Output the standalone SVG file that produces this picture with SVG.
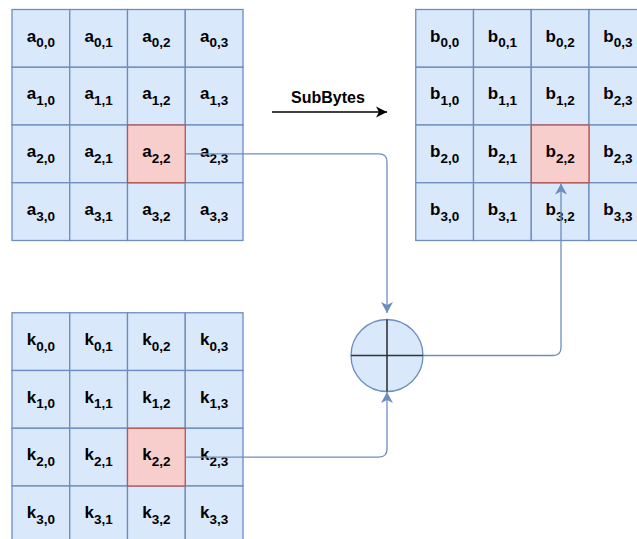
<svg xmlns="http://www.w3.org/2000/svg" width="637" height="539" viewBox="0 0 637 539">
<style>
.c{fill:#dae8fc;stroke:#6c8ebf;stroke-width:1.3}
.r{fill:#f8cecc;stroke:#b85450;stroke-width:1.3}
.t{font-family:"Liberation Sans",Arial,sans-serif;font-weight:bold;font-size:17px;fill:#000;text-anchor:middle}
.s{font-size:13.5px}
.e{fill:none;stroke:#6c8ebf;stroke-width:1.3}
.x{fill:none;stroke:#333;stroke-width:1.6}
</style>
<defs>
<marker id="ab" markerUnits="userSpaceOnUse" markerWidth="13" markerHeight="13" refX="11" refY="6" orient="auto" viewBox="0 0 13 12"><path d="M0,0 L11,6 L0,12 L3,6 Z" fill="#6c8ebf"/></marker>
<marker id="ak" markerUnits="userSpaceOnUse" markerWidth="13" markerHeight="13" refX="11" refY="5.5" orient="auto" viewBox="0 0 13 11"><path d="M0,0 L11,5.5 L0,11 L3,5.5 Z" fill="#000"/></marker>
</defs>
<rect width="637" height="539" fill="#fff"/>

<g id="state-a">
<g id="a00"><rect class="c" x="12" y="9.5" width="57.75" height="57.75"/><text class="t" x="40.9" y="41.7">a<tspan class="s" dy="5.6">0,0</tspan></text></g>
<g id="a01"><rect class="c" x="69.75" y="9.5" width="57.75" height="57.75"/><text class="t" x="98.6" y="41.7">a<tspan class="s" dy="5.6">0,1</tspan></text></g>
<g id="a02"><rect class="c" x="127.5" y="9.5" width="57.75" height="57.75"/><text class="t" x="156.4" y="41.7">a<tspan class="s" dy="5.6">0,2</tspan></text></g>
<g id="a03"><rect class="c" x="185.25" y="9.5" width="57.75" height="57.75"/><text class="t" x="214.1" y="41.7">a<tspan class="s" dy="5.6">0,3</tspan></text></g>
<g id="a10"><rect class="c" x="12" y="67.25" width="57.75" height="57.75"/><text class="t" x="40.9" y="99.45">a<tspan class="s" dy="5.6">1,0</tspan></text></g>
<g id="a11"><rect class="c" x="69.75" y="67.25" width="57.75" height="57.75"/><text class="t" x="98.6" y="99.45">a<tspan class="s" dy="5.6">1,1</tspan></text></g>
<g id="a12"><rect class="c" x="127.5" y="67.25" width="57.75" height="57.75"/><text class="t" x="156.4" y="99.45">a<tspan class="s" dy="5.6">1,2</tspan></text></g>
<g id="a13"><rect class="c" x="185.25" y="67.25" width="57.75" height="57.75"/><text class="t" x="214.1" y="99.45">a<tspan class="s" dy="5.6">1,3</tspan></text></g>
<g id="a20"><rect class="c" x="12" y="125" width="57.75" height="57.75"/><text class="t" x="40.9" y="157.2">a<tspan class="s" dy="5.6">2,0</tspan></text></g>
<g id="a21"><rect class="c" x="69.75" y="125" width="57.75" height="57.75"/><text class="t" x="98.6" y="157.2">a<tspan class="s" dy="5.6">2,1</tspan></text></g>
<g id="a23"><rect class="c" x="185.25" y="125" width="57.75" height="57.75"/><text class="t" x="214.1" y="157.2">a<tspan class="s" dy="5.6">2,3</tspan></text></g>
<g id="a30"><rect class="c" x="12" y="182.75" width="57.75" height="57.75"/><text class="t" x="40.9" y="214.95">a<tspan class="s" dy="5.6">3,0</tspan></text></g>
<g id="a31"><rect class="c" x="69.75" y="182.75" width="57.75" height="57.75"/><text class="t" x="98.6" y="214.95">a<tspan class="s" dy="5.6">3,1</tspan></text></g>
<g id="a32"><rect class="c" x="127.5" y="182.75" width="57.75" height="57.75"/><text class="t" x="156.4" y="214.95">a<tspan class="s" dy="5.6">3,2</tspan></text></g>
<g id="a33"><rect class="c" x="185.25" y="182.75" width="57.75" height="57.75"/><text class="t" x="214.1" y="214.95">a<tspan class="s" dy="5.6">3,3</tspan></text></g>
<g id="a22"><rect class="r" x="127.5" y="125" width="57.75" height="57.75"/><text class="t" x="156.4" y="157.2">a<tspan class="s" dy="5.6">2,2</tspan></text></g>
</g>

<g id="state-b">
<g id="b00"><rect class="c" x="415.75" y="9.5" width="57.75" height="57.75"/><text class="t" x="444.6" y="41.7">b<tspan class="s" dy="5.6">0,0</tspan></text></g>
<g id="b01"><rect class="c" x="473.5" y="9.5" width="57.75" height="57.75"/><text class="t" x="502.4" y="41.7">b<tspan class="s" dy="5.6">0,1</tspan></text></g>
<g id="b02"><rect class="c" x="531.25" y="9.5" width="57.75" height="57.75"/><text class="t" x="560.1" y="41.7">b<tspan class="s" dy="5.6">0,2</tspan></text></g>
<g id="b03"><rect class="c" x="589" y="9.5" width="57.75" height="57.75"/><text class="t" x="617.9" y="41.7">b<tspan class="s" dy="5.6">0,3</tspan></text></g>
<g id="b10"><rect class="c" x="415.75" y="67.25" width="57.75" height="57.75"/><text class="t" x="444.6" y="99.45">b<tspan class="s" dy="5.6">1,0</tspan></text></g>
<g id="b11"><rect class="c" x="473.5" y="67.25" width="57.75" height="57.75"/><text class="t" x="502.4" y="99.45">b<tspan class="s" dy="5.6">1,1</tspan></text></g>
<g id="b12"><rect class="c" x="531.25" y="67.25" width="57.75" height="57.75"/><text class="t" x="560.1" y="99.45">b<tspan class="s" dy="5.6">1,2</tspan></text></g>
<g id="b13"><rect class="c" x="589" y="67.25" width="57.75" height="57.75"/><text class="t" x="617.9" y="99.45">b<tspan class="s" dy="5.6">2,3</tspan></text></g>
<g id="b20"><rect class="c" x="415.75" y="125" width="57.75" height="57.75"/><text class="t" x="444.6" y="157.2">b<tspan class="s" dy="5.6">2,0</tspan></text></g>
<g id="b21"><rect class="c" x="473.5" y="125" width="57.75" height="57.75"/><text class="t" x="502.4" y="157.2">b<tspan class="s" dy="5.6">2,1</tspan></text></g>
<g id="b23"><rect class="c" x="589" y="125" width="57.75" height="57.75"/><text class="t" x="617.9" y="157.2">b<tspan class="s" dy="5.6">2,3</tspan></text></g>
<g id="b30"><rect class="c" x="415.75" y="182.75" width="57.75" height="57.75"/><text class="t" x="444.6" y="214.95">b<tspan class="s" dy="5.6">3,0</tspan></text></g>
<g id="b31"><rect class="c" x="473.5" y="182.75" width="57.75" height="57.75"/><text class="t" x="502.4" y="214.95">b<tspan class="s" dy="5.6">3,1</tspan></text></g>
<g id="b32"><rect class="c" x="531.25" y="182.75" width="57.75" height="57.75"/><text class="t" x="560.1" y="214.95">b<tspan class="s" dy="5.6">3,2</tspan></text></g>
<g id="b33"><rect class="c" x="589" y="182.75" width="57.75" height="57.75"/><text class="t" x="617.9" y="214.95">b<tspan class="s" dy="5.6">3,3</tspan></text></g>
<g id="b22"><rect class="r" x="531.25" y="125" width="57.75" height="57.75"/><text class="t" x="560.1" y="157.2">b<tspan class="s" dy="5.6">2,2</tspan></text></g>
</g>

<g id="key-k">
<g id="k00"><rect class="c" x="12" y="312.75" width="57.75" height="57.75"/><text class="t" x="40.9" y="344.95">k<tspan class="s" dy="5.6">0,0</tspan></text></g>
<g id="k01"><rect class="c" x="69.75" y="312.75" width="57.75" height="57.75"/><text class="t" x="98.6" y="344.95">k<tspan class="s" dy="5.6">0,1</tspan></text></g>
<g id="k02"><rect class="c" x="127.5" y="312.75" width="57.75" height="57.75"/><text class="t" x="156.4" y="344.95">k<tspan class="s" dy="5.6">0,2</tspan></text></g>
<g id="k03"><rect class="c" x="185.25" y="312.75" width="57.75" height="57.75"/><text class="t" x="214.1" y="344.95">k<tspan class="s" dy="5.6">0,3</tspan></text></g>
<g id="k10"><rect class="c" x="12" y="370.5" width="57.75" height="57.75"/><text class="t" x="40.9" y="402.7">k<tspan class="s" dy="5.6">1,0</tspan></text></g>
<g id="k11"><rect class="c" x="69.75" y="370.5" width="57.75" height="57.75"/><text class="t" x="98.6" y="402.7">k<tspan class="s" dy="5.6">1,1</tspan></text></g>
<g id="k12"><rect class="c" x="127.5" y="370.5" width="57.75" height="57.75"/><text class="t" x="156.4" y="402.7">k<tspan class="s" dy="5.6">1,2</tspan></text></g>
<g id="k13"><rect class="c" x="185.25" y="370.5" width="57.75" height="57.75"/><text class="t" x="214.1" y="402.7">k<tspan class="s" dy="5.6">1,3</tspan></text></g>
<g id="k20"><rect class="c" x="12" y="428.25" width="57.75" height="57.75"/><text class="t" x="40.9" y="460.45">k<tspan class="s" dy="5.6">2,0</tspan></text></g>
<g id="k21"><rect class="c" x="69.75" y="428.25" width="57.75" height="57.75"/><text class="t" x="98.6" y="460.45">k<tspan class="s" dy="5.6">2,1</tspan></text></g>
<g id="k23"><rect class="c" x="185.25" y="428.25" width="57.75" height="57.75"/><text class="t" x="214.1" y="460.45">k<tspan class="s" dy="5.6">2,3</tspan></text></g>
<g id="k30"><rect class="c" x="12" y="486" width="57.75" height="57.75"/><text class="t" x="40.9" y="518.2">k<tspan class="s" dy="5.6">3,0</tspan></text></g>
<g id="k31"><rect class="c" x="69.75" y="486" width="57.75" height="57.75"/><text class="t" x="98.6" y="518.2">k<tspan class="s" dy="5.6">3,1</tspan></text></g>
<g id="k32"><rect class="c" x="127.5" y="486" width="57.75" height="57.75"/><text class="t" x="156.4" y="518.2">k<tspan class="s" dy="5.6">3,2</tspan></text></g>
<g id="k33"><rect class="c" x="185.25" y="486" width="57.75" height="57.75"/><text class="t" x="214.1" y="518.2">k<tspan class="s" dy="5.6">3,3</tspan></text></g>
<g id="k22"><rect class="r" x="127.5" y="428.25" width="57.75" height="57.75"/><text class="t" x="156.4" y="460.45">k<tspan class="s" dy="5.6">2,2</tspan></text></g>
</g>

<g id="xor">
<circle cx="387" cy="355.5" r="36" fill="#dae8fc" stroke="#6c8ebf" stroke-width="1.3"/>
<path class="x" d="M351,355.5 H423 M387,319.5 V391.5"/>
</g>

<g id="connectors">
<path class="e" d="M185.25,153.9 H379 Q387,153.9 387,161.9 V313" marker-end="url(#ab)"/>
<path class="e" d="M185.25,457.1 H379 Q387,457.1 387,449.1 V392" marker-end="url(#ab)"/>
<path class="e" d="M423,355.5 H553 Q561,355.5 561,347.5 V183.5" marker-end="url(#ab)"/>
<path d="M272,112 H387" stroke="#000" stroke-width="1.5" fill="none" marker-end="url(#ak)"/>
<text class="t" x="328" y="103.3" style="font-size:16px">SubBytes</text>
</g>
</svg>
